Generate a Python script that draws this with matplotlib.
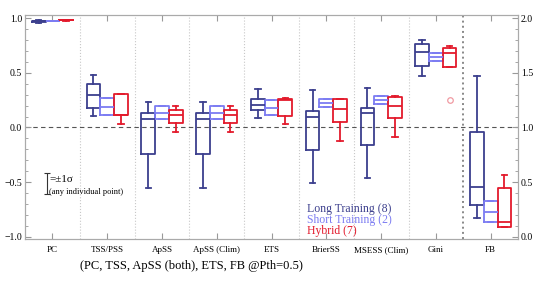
import matplotlib
matplotlib.use("Agg")
import matplotlib.pyplot as plt
import numpy as np
from matplotlib.ticker import MultipleLocator

# categories (FB is drawn against the right-hand axis)
categories = ["PC", "TSS/PSS", "ApSS", "ApSS (Clim)", "ETS", "BrierSS", "MSESS (Clim)", "Gini", "FB"]
series = ["Long Training (8)", "Short Training (2)", "Hybrid (7)"]

# box statistics per series: whisker low, q1, median, q3, whisker high
long_lo  = [0.960, 0.107, -0.557, -0.557, 0.085, -0.511, -0.462, 0.471, 0.168]
long_q1  = [0.965, 0.174, -0.241, -0.241, 0.159, -0.211, -0.165, 0.566, 0.291]
long_med = [0.970, 0.300, 0.080, 0.080, 0.208, 0.100, 0.135, 0.688, 0.452]
long_q3  = [0.975, 0.400, 0.135, 0.135, 0.257, 0.153, 0.180, 0.764, 0.960]
long_hi  = [0.980, 0.480, 0.235, 0.235, 0.355, 0.340, 0.360, 0.805, 1.471]

short_lo  = [0.975, 0.113, 0.080, 0.080, 0.110, 0.186, 0.217, 0.608, 0.131]
short_q1  = [0.975, 0.113, 0.080, 0.080, 0.110, 0.186, 0.217, 0.608, 0.131]
short_med = [0.977, 0.190, 0.135, 0.135, 0.180, 0.223, 0.254, 0.645, 0.229]
short_q3  = [0.978, 0.270, 0.195, 0.195, 0.248, 0.260, 0.284, 0.680, 0.324]
short_hi  = [0.978, 0.270, 0.195, 0.195, 0.248, 0.260, 0.284, 0.680, 0.324]

hyb_lo  = [0.978, 0.034, -0.043, -0.043, 0.028, -0.128, -0.089, 0.550, 0.092]
hyb_q1  = [0.979, 0.113, 0.037, 0.037, 0.104, 0.046, 0.083, 0.550, 0.092]
hyb_med = [0.980, 0.113, 0.116, 0.116, 0.250, 0.165, 0.193, 0.685, 0.131]
hyb_q3  = [0.982, 0.305, 0.160, 0.160, 0.263, 0.257, 0.280, 0.728, 0.443]
hyb_hi  = [0.983, 0.305, 0.195, 0.195, 0.270, 0.260, 0.287, 0.746, 0.566]
hyb_fliers = {"Gini": [0.248]}

colors = ["#3c3f8d", "#7c7cf2", "#e31a2c"]
offsets = [-0.25, 0.0, 0.25]

plt.rcParams["font.family"] = ["Liberation Serif", "DejaVu Serif"]

fig = plt.figure(figsize=(5.38, 2.87), dpi=100)
ax = fig.add_axes([0.0465, 0.167, 0.9165, 0.781])
ax2 = ax.twinx()

ax.set_xlim(0.5, 9.5)
ax.set_ylim(-1.022, 1.03)
ax2.set_ylim(-0.022, 2.03)

ser_data = [
    (long_lo, long_q1, long_med, long_q3, long_hi, {}),
    (short_lo, short_q1, short_med, short_q3, short_hi, {}),
    (hyb_lo, hyb_q1, hyb_med, hyb_q3, hyb_hi, hyb_fliers),
]

for (lo, q1, med, q3, hi, fl), col, off in zip(ser_data, colors, offsets):
    for i, cat in enumerate(categories):
        st = [dict(whislo=lo[i], q1=q1[i], med=med[i], q3=q3[i], whishi=hi[i],
                   fliers=fl.get(cat, []))]
        target = ax2 if cat == "FB" else ax
        props = dict(color=col, linewidth=1.3)
        target.bxp(st, positions=[i + 1 + off], widths=0.25, capwidths=0.1,
                   boxprops=props, medianprops=props, whiskerprops=props,
                   capprops=props,
                   flierprops=dict(marker="o", markersize=4, markerfacecolor="none",
                                   markeredgecolor="#f09aa2", markeredgewidth=0.9),
                   manage_ticks=False)

# separators
for xs in np.arange(1.5, 8.5, 1.0):
    ax.axvline(xs, color="#c8c8c8", linestyle=":", linewidth=0.8, zorder=0)
ax.axvline(8.5, color="#888888", linestyle=":", linewidth=1.4, zorder=0)
ax.axhline(0, color="#555555", linestyle="--", linewidth=0.8, dashes=(4, 3), zorder=0)

ax.set_xticks(np.arange(1, len(categories) + 1))
ax.set_xticklabels(categories, fontsize=6.5)
ax.yaxis.set_minor_locator(MultipleLocator(0.1))
ax2.yaxis.set_minor_locator(MultipleLocator(0.1))
ax.set_yticks([-1.0, -0.5, 0.0, 0.5, 1.0])
ax.set_yticklabels(["\u22121.0", "\u22120.5", "0.0", "0.5", "1.0"], fontsize=7)
ax2.set_yticks([0.0, 0.5, 1.0, 1.5, 2.0])
ax2.set_yticklabels(["0.0", "0.5", "1.0", "1.5", "2.0"], fontsize=7)

ax.tick_params(axis="both", which="both", direction="in", color="#999999")
ax.tick_params(axis="x", top=True, length=4, pad=5)
ax.tick_params(axis="y", which="major", length=4, pad=2)
ax.tick_params(axis="y", which="minor", length=2)
ax2.tick_params(axis="y", which="both", direction="in", color="#999999", pad=2)
ax2.tick_params(axis="y", which="major", length=4)
ax2.tick_params(axis="y", which="minor", length=2)
for a in (ax, ax2):
    for s in a.spines.values():
        s.set_color("#aaaaaa")
        s.set_linewidth(0.8)

# error-bar key
ax.errorbar([0.905], [-0.513], yerr=[0.095], color="#333333", capsize=2,
            linewidth=0.8, capthick=0.8)
ax.text(0.94, -0.48, "=\u00b11\u03c3", fontsize=8, va="center", ha="left")
ax.text(0.94, -0.595, "(any individual point)", fontsize=6, va="center", ha="left")

# series key
for k, (name, col) in enumerate(zip(series, colors)):
    ax.text(5.64, -0.743 - 0.101 * k, name, color=col, fontsize=8.5,
            va="center", ha="left")

fig.text(80 / 538, 1 - 266 / 287, "(PC, TSS, ApSS (both), ETS, FB @Pth=0.5)",
         fontsize=9, va="center", ha="left")

fig.savefig("out.png", dpi=100)
